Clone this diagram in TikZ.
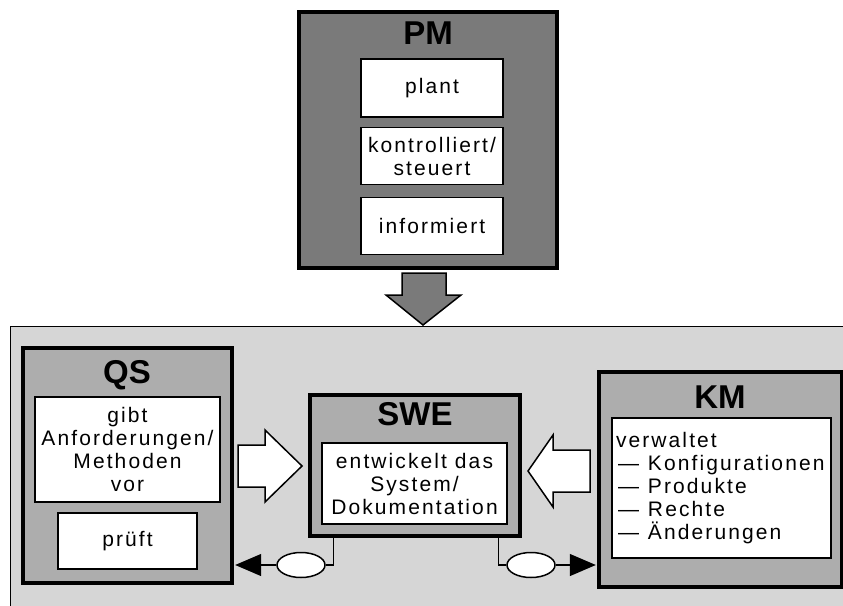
\documentclass[tikz,border=0pt]{standalone}
\usepackage{fontspec}
\setmainfont{Liberation Sans}[LetterSpace=10]
\newfontfamily\headfont{Liberation Sans}
\usetikzlibrary{positioning,arrows.meta,shapes.geometric}

\definecolor{pmgray}{gray}{0.48}
\definecolor{boxgray}{gray}{0.68}
\definecolor{bggray}{gray}{0.84}

\tikzset{
  group/.style={draw, line width=3.2pt, fill=boxgray, inner sep=0pt},
  task/.style={draw, line width=1.6pt, fill=white, align=center, inner sep=0pt,
    font=\fontsize{21}{23}\selectfont},
  heading/.style={font=\headfont\bfseries\fontsize{33}{33}\selectfont},
  blockarrow/.style={draw, line width=1.5pt, line join=miter},
  link/.style={line width=1.2pt},
  token/.style={draw, ellipse, fill=white, line width=1.5pt,
    minimum width=48pt, minimum height=25pt, inner sep=0pt}
}
\newcommand{\itemdash}{\hspace*{2pt}—\hspace*{9pt}}

\begin{document}
\begin{tikzpicture}[x=1pt, y=-1pt]
    \useasboundingbox (0,0) rectangle (843,605);
    % project organisation
    \node [draw, line width=1pt, fill=bggray, minimum width=840, minimum height=290, inner sep=0pt] (org) at (430,471) {};

    % project management
    \node [group, fill=pmgray, minimum width=258, minimum height=256] (pm) at (428,140) {};
    \node [heading] (pmhead) at (428,33) {PM};
    \node [task, minimum width=142, minimum height=58] (plant) at (432,88) {plant};
    \node [task, minimum width=142, minimum height=57] (steuert) at (432,156) {kontrolliert/\\steuert};
    \node [task, minimum width=142, minimum height=57] (info) at (432,226) {informiert};
    \draw [blockarrow, fill=pmgray] (402,273) -- (446,273) -- (446,295) -- (461,295)
        -- (423,325) -- (386,295) -- (402,295) -- cycle; % down to the team

    % quality assurance
    \node [group, minimum width=209, minimum height=235] (qs) at (127.5,465.5) {};
    \node [heading] (qshead) at (127,375) {QS};
    \node [task, minimum width=185, minimum height=105] (anf) at (127.5,449.5) {gibt\\Anforderungen/\\Methoden\\vor};
    \node [task, minimum width=139, minimum height=56] (pruef) at (127.5,541) {prüft};

    % software engineering
    \node [group, minimum width=210, minimum height=141] (swe) at (415,465.5) {};
    \node [heading] (swehead) at (415,414) {SWE};
    \node [task, minimum width=185, minimum height=81] (entw) at (414.5,483.5) {entwickelt das\\System/\\Dokumentation};

    % configuration management
    \node [group, minimum width=243, minimum height=215] (km) at (720.5,479.5) {};
    \node [heading] (kmhead) at (720,397) {KM};
    \node [task, align=left, text width=211, inner xsep=4pt, minimum height=140] (verw) at (721.5,488) {verwaltet\\\itemdash Konfigurationen\\\itemdash Produkte\\\itemdash Rechte\\\itemdash Änderungen};

    % block arrows into SWE
    \draw [blockarrow, fill=white] (238,445) -- (265,445) -- (265,430) -- (302,466)
        -- (265,502) -- (265,487) -- (238,487) -- cycle;
    \draw [blockarrow, fill=white] (590,450) -- (553,450) -- (553,435) -- (528,471)
        -- (553,507) -- (553,492) -- (590,492) -- cycle;

    % results flow
    \node [token] (tokqs) at (301,565) {};
    \node [token] (tokkm) at (531,565) {};
    \draw [link] ([xshift=25pt]swe.south west) |- (tokqs.east);
    \draw [link, -{Triangle[length=26pt,width=22pt]}] (tokqs.west) -- ([xshift=1.6pt]qs.east |- tokqs.west);
    \draw [link] ([xshift=-23pt]swe.south east) |- (tokkm.west);
    \draw [link, -{Triangle[length=26pt,width=22pt]}] (tokkm.east) -- ([xshift=-1.6pt]km.west |- tokkm.east);
\end{tikzpicture}
\end{document}
